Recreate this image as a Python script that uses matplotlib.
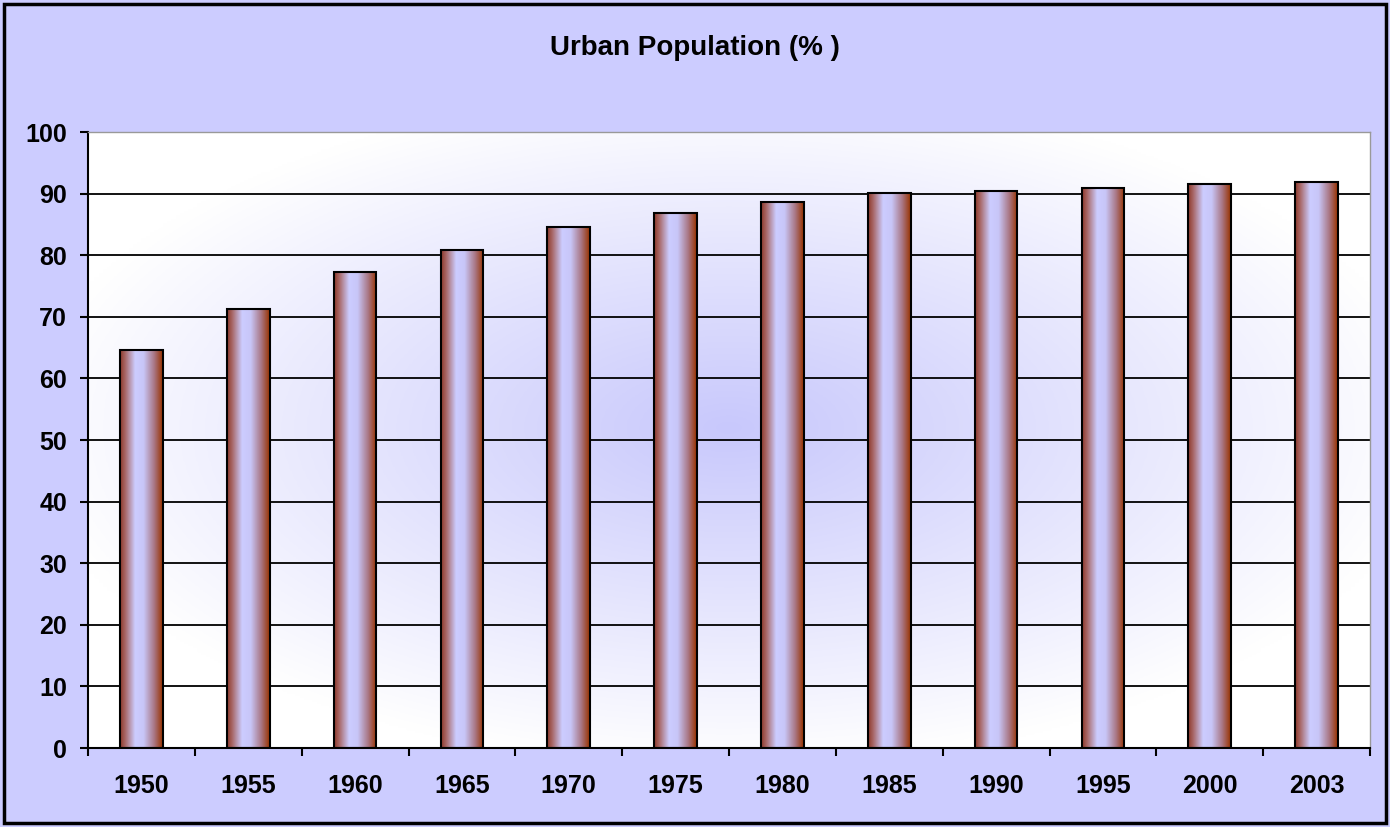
import numpy as np
import matplotlib
matplotlib.use("Agg")
import matplotlib.pyplot as plt
from matplotlib.colors import LinearSegmentedColormap
from matplotlib.patches import Rectangle

years = ["1950", "1955", "1960", "1965", "1970", "1975",
         "1980", "1985", "1990", "1995", "2000", "2003"]
urban_pct = [64.6, 71.3, 77.3, 80.8, 84.6, 86.9,
             88.6, 90.1, 90.4, 90.9, 91.6, 91.9]
y_ticks = [0, 10, 20, 30, 40, 50, 60, 70, 80, 90, 100]

plt.rcParams['font.family'] = ['Liberation Sans', 'DejaVu Sans']

fig = plt.figure(figsize=(13.9, 8.27), dpi=100, facecolor="#CCCCFF")
ax = fig.add_axes([88/1390, 1-748/827, (1370-88)/1390, (748-132)/827])

# radial background in the plot area
n = 300
gx, gy = np.meshgrid(np.linspace(0, 1, n), np.linspace(0, 1, n))
r = np.sqrt(((gx-0.5)/0.55)**2 + ((gy-0.52)/0.55)**2)
r = np.clip(r, 0, 1)
center = np.array([200, 200, 252]) / 255
edge = np.array([255, 255, 255]) / 255
bg = center[None, None, :] * (1-r[..., None]) + edge[None, None, :] * r[..., None]
ax.imshow(bg, extent=[0, 1, 0, 1], transform=ax.transAxes, aspect="auto",
          origin="lower", zorder=0)

x = np.arange(len(years))
bars = ax.bar(x, urban_pct, width=0.4, facecolor="none", edgecolor="black",
              linewidth=1.5, zorder=3)

bar_cmap = LinearSegmentedColormap.from_list("bar", [
    (0.0, "#8E3A2C"), (0.12, "#A86868"), (0.35, "#CCCCFF"),
    (0.55, "#C8C6F8"), (0.8, "#A97785"), (1.0, "#993300")])
grad = np.linspace(0, 1, 100)[None, :]
for b in bars:
    bx, bw, bh = b.get_x(), b.get_width(), b.get_height()
    ax.imshow(grad, cmap=bar_cmap, extent=[bx, bx+bw, 0, bh],
              aspect="auto", zorder=2)

ax.set_xlim(-0.5, len(years)-0.5)
ax.set_ylim(0, 100)

ax.set_yticks(y_ticks)
ax.set_yticklabels([str(v) for v in y_ticks], fontsize=18, fontweight="bold")
ax.yaxis.grid(True, color="black", linewidth=1.3, zorder=1)
ax.set_axisbelow(True)

ax.set_xticks(np.arange(len(years)+1) - 0.5)
ax.set_xticklabels([])
ax.set_xticks(x, minor=True)
ax.set_xticklabels(years, minor=True, fontsize=18, fontweight="bold")
ax.tick_params(axis="x", which="minor", length=0, pad=19)
ax.tick_params(axis="x", which="major", direction="out", length=6, width=1.5)
ax.tick_params(axis="y", direction="out", length=6, width=1.5, pad=9)

for s in ["left", "bottom"]:
    ax.spines[s].set_color("black")
    ax.spines[s].set_linewidth(1.5)
for s in ["top", "right"]:
    ax.spines[s].set_color("#999999")
    ax.spines[s].set_linewidth(1.0)

fig.text(0.5, 1-48/827, "Urban Population (% )", ha="center", va="center",
         fontsize=20, fontweight="bold")

fig.patches.append(Rectangle((4/1390, 4/827), 1-8/1390, 1-8/827,
                             transform=fig.transFigure, fill=False,
                             edgecolor="black", linewidth=2.5))

fig.savefig("out.png", dpi=100, facecolor=fig.get_facecolor())
